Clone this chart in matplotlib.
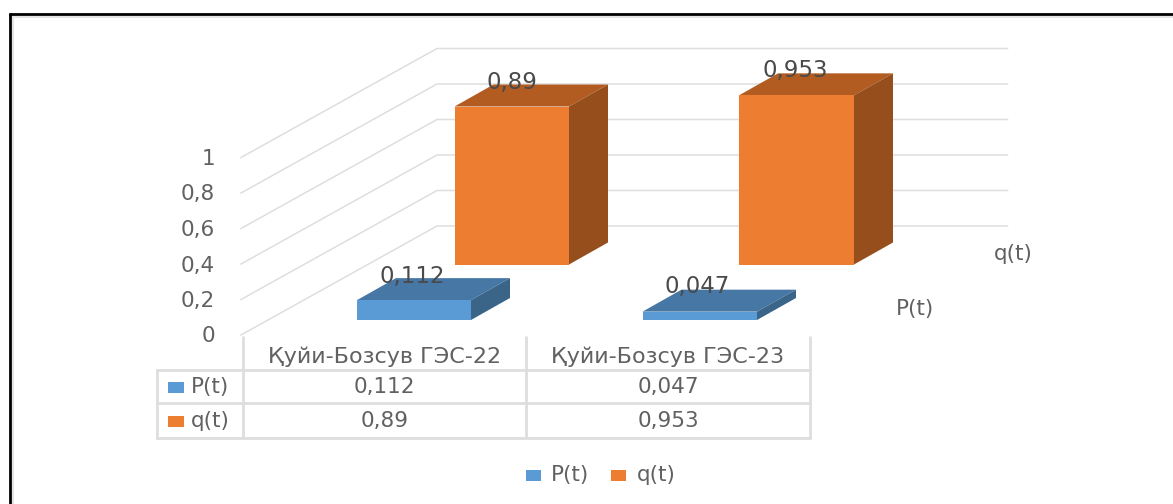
import matplotlib
matplotlib.use("Agg")
import matplotlib.pyplot as plt
from matplotlib.patches import Polygon, Rectangle

plt.rcParams['font.family'] = ['DejaVu Sans']

categories = ["Қуйи-Бозсув ГЭС-22", "Қуйи-Бозсув ГЭС-23"]
series_names = ["P(t)", "q(t)"]
p_values = [0.112, 0.047]
q_values = [0.89, 0.953]
axis_ticks = [0, 0.2, 0.4, 0.6, 0.8, 1]


def comma(v):
    return f"{v:g}".replace(".", ",")


W, H = 1173, 504
fig = plt.figure(figsize=(W / 100, H / 100), dpi=100)
ax = fig.add_axes([0, 0, 1, 1])
# Horizontal axis runs in pixels; vertical axis runs in value units, zero at the front row floor.
UNIT = 177.5
FLOOR = 320.0
ax.set_xlim(0, W)
ax.set_ylim(-(H - FLOOR) / UNIT, FLOOR / UNIT)
ax.axis("off")


def yv(px):
    """Vertical position for a layout coordinate measured from the top edge."""
    return (FLOOR - px) / UNIT


GRID = "#dedede"
LABEL = "#616161"
DARK = "#4a4a4a"
FS = 15.5
FS_CAT = 16.0
FS_DATA = 16.5

# Page frame
ax.plot([10, 10], [yv(H), yv(13)], color="black", lw=2, solid_capstyle="butt", zorder=6)
ax.plot([9, W], [yv(14), yv(14)], color="black", lw=2, solid_capstyle="butt", zorder=6)
ax.plot([12.5, 12.5], [yv(H), yv(16)], color="#e4e4e4", lw=1.5, zorder=5)
ax.plot([12, W], [yv(16.5), yv(16.5)], color="#e4e4e4", lw=1.5, zorder=5)

# Side wall and back wall gridlines
FRONT_X, BACK_X, RIGHT_X = 241, 437, 1007.5
FRONT_ZERO, BACK_ZERO = 335.0, 226.0
for t in axis_ticks:
    fy = yv(FRONT_ZERO) + t
    by = yv(BACK_ZERO) + t
    ax.plot([FRONT_X, BACK_X, RIGHT_X], [fy, by, by], color=GRID, lw=1.1, zorder=1)
    ax.text(215, fy - 1.5 / UNIT, comma(t), ha="right", va="center", color=LABEL, fontsize=FS)

# Rows of 3D bars
DX, DY = 39, 22 / UNIT


def bar3d(x0, x1, base, value, front, top, side, label, lx, ly):
    ytop = base + value
    ax.add_patch(Polygon([(x0, ytop), (x1, ytop), (x1 + DX, ytop + DY), (x0 + DX, ytop + DY)],
                         fc=top, ec="none", zorder=3))
    ax.add_patch(Polygon([(x1, base), (x1 + DX, base + DY), (x1 + DX, ytop + DY), (x1, ytop)],
                         fc=side, ec="none", zorder=3))
    ax.add_patch(Rectangle((x0, base), x1 - x0, value, fc=front, ec="none", zorder=4))
    ax.text(lx, yv(ly), label, ha="center", va="center", color=DARK, fontsize=FS_DATA, zorder=7)


P_COLS = ("#5b9bd5", "#4677a5", "#3a6589")
Q_COLS = ("#ed7d31", "#b25c22", "#964f1c")
q_base = yv(264.5)
p_base = yv(FLOOR)
bar_x_q = [(454.5, 569), (739, 854)]
bar_x_p = [(357, 471), (642.5, 757)]
q_label_pos = [(512, 82), (795, 71)]
p_label_pos = [(412.5, 277), (697, 287)]
for (x0, x1), v, (lx, ly) in zip(bar_x_q, q_values, q_label_pos):
    bar3d(x0, x1, q_base, v, *Q_COLS, comma(v), lx, ly)
for (x0, x1), v, (lx, ly) in zip(bar_x_p, p_values, p_label_pos):
    bar3d(x0, x1, p_base, v, *P_COLS, comma(v), lx, ly)

# Depth axis labels
ax.text(1013, yv(254), series_names[1], ha="center", va="center", color=LABEL, fontsize=FS)
ax.text(915, yv(309), series_names[0], ha="center", va="center", color=LABEL, fontsize=FS)

# Data table below the plot
TX = [157, 243, 526, 810]
TY = [370, 403, 438]
TW = 2
for x in TX[1:]:
    ax.plot([x, x], [yv(336), yv(TY[-1])], color=GRID, lw=TW, solid_capstyle="butt")
ax.plot([TX[0], TX[0]], [yv(TY[0]), yv(TY[-1])], color=GRID, lw=TW)
for y in TY:
    ax.plot([TX[0], TX[-1]], [yv(y), yv(y)], color=GRID, lw=TW)
centers = [(TX[1] + TX[2]) / 2, (TX[2] + TX[3]) / 2]
for cx, cat, p, q in zip(centers, categories, p_values, q_values):
    ax.text(cx, yv(357), cat, ha="center", va="center", color=LABEL, fontsize=FS_CAT)
    ax.text(cx, yv(387), comma(p), ha="center", va="center", color=LABEL, fontsize=FS)
    ax.text(cx, yv(421), comma(q), ha="center", va="center", color=LABEL, fontsize=FS)
for name, col, ky in zip(series_names, (P_COLS[0], Q_COLS[0]), (387, 421)):
    ax.add_patch(Rectangle((168, yv(ky + 5.5)), 16, 11 / UNIT, fc=col, ec="none"))
    ax.text(191, yv(ky), name, ha="left", va="center", color=LABEL, fontsize=FS)

# Legend
for name, col, kx, tx in zip(series_names, (P_COLS[0], Q_COLS[0]), (526, 611), (551, 637)):
    ax.add_patch(Rectangle((kx, yv(480.5)), 15, 11 / UNIT, fc=col, ec="none"))
    ax.text(tx, yv(475), name, ha="left", va="center", color=LABEL, fontsize=FS)

fig.savefig("out.png", dpi=100)
